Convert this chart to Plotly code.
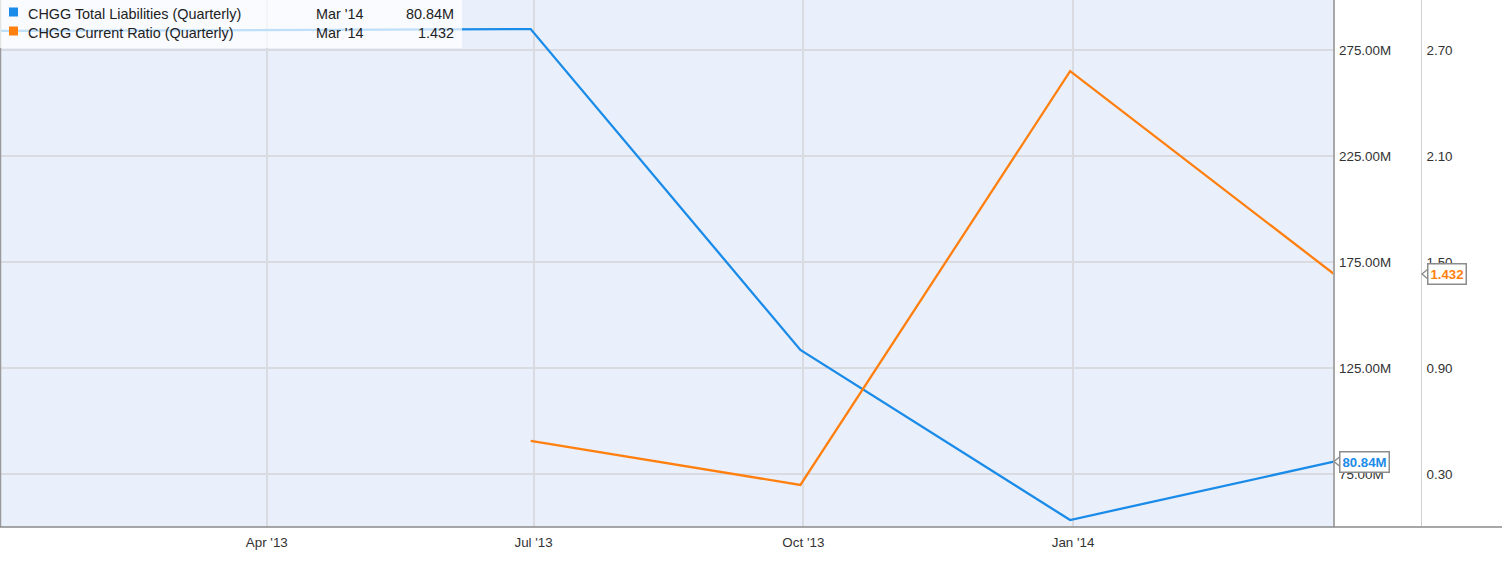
import plotly.graph_objects as go

# ---- data ----
liab_dates = ["2012-12-31", "2013-06-30", "2013-09-30", "2013-12-31", "2014-03-31"]
liab_values = [284.0, 284.9, 133.5, 53.3, 80.84]          # millions
ratio_dates = ["2013-06-30", "2013-09-30", "2013-12-31", "2014-03-31"]
ratio_values = [0.487, 0.238, 2.58, 1.432]

x_tick_vals = ["2013-04-01", "2013-07-01", "2013-10-01", "2014-01-01"]
x_tick_text = ["Apr '13", "Jul '13", "Oct '13", "Jan '14"]
liab_ticks = [75, 125, 175, 225, 275]
liab_tick_text = ["75.00M", "125.00M", "175.00M", "225.00M", "275.00M"]
ratio_ticks = [0.30, 0.90, 1.50, 2.10, 2.70]
ratio_tick_text = ["0.30", "0.90", "1.50", "2.10", "2.70"]

liab_name = "CHGG Total Liabilities (Quarterly)"
ratio_name = "CHGG Current Ratio (Quarterly)"
last_label = "Mar '14"

BLUE = "#1a8be8"
ORANGE = "#ff7f0f"
W, H = 1502, 566
PLOT_H = 527
FONT = "Liberation Sans, Arial, sans-serif"
TICK_SIZE = 13.4
LEG_SIZE = 14.4

def px(x):
    return x / W

def py(y):
    return 1 - y / PLOT_H

fig = go.Figure()
fig.add_trace(go.Scatter(x=liab_dates, y=liab_values, mode="lines",
                         line=dict(color=BLUE, width=2.3), yaxis="y",
                         hoverinfo="skip", showlegend=False))
fig.add_trace(go.Scatter(x=ratio_dates, y=ratio_values, mode="lines",
                         line=dict(color=ORANGE, width=2.3), yaxis="y2",
                         hoverinfo="skip", showlegend=False))

shapes = []
annotations = []

# borders
shapes.append(dict(type="line", xref="paper", yref="paper", x0=px(0.6), x1=px(0.6), y0=0, y1=1,
                   line=dict(color="#9a9a9a", width=1.3), layer="above"))
shapes.append(dict(type="line", xref="paper", yref="paper", x0=px(1334), x1=px(1334), y0=0, y1=1,
                   line=dict(color="#a8a8a8", width=2), layer="above"))
shapes.append(dict(type="line", xref="paper", yref="paper", x0=px(1421.5), x1=px(1421.5), y0=0, y1=1,
                   line=dict(color="#d0d0d0", width=1), layer="above"))
shapes.append(dict(type="line", xref="paper", yref="paper", x0=0, x1=1, y0=py(527), y1=py(527),
                   line=dict(color="#8a8a8a", width=1.5), layer="above"))

# legend box
shapes.append(dict(type="rect", xref="paper", yref="paper", x0=0, x1=px(462), y0=py(48), y1=1,
                   fillcolor="rgba(255,255,255,0.72)", line=dict(width=0), layer="above"))
rows = [(liab_name, BLUE, f"{liab_values[-1]:.2f}M", 13.5, 12),
        (ratio_name, ORANGE, f"{ratio_values[-1]:.3f}", 33, 31)]
for name, col, val, yc, ym in rows:
    shapes.append(dict(type="rect", xref="paper", yref="paper", x0=px(9), x1=px(18),
                       y0=py(ym + 4.5), y1=py(ym - 4.5), fillcolor=col, line=dict(width=0), layer="above"))
    annotations.append(dict(xref="paper", yref="paper", x=px(26), y=py(yc), text=name, showarrow=False,
                            xanchor="left", yanchor="middle", font=dict(family=FONT, size=LEG_SIZE, color="#222")))
    annotations.append(dict(xref="paper", yref="paper", x=px(314), y=py(yc), text=last_label, showarrow=False,
                            xanchor="left", yanchor="middle", font=dict(family=FONT, size=LEG_SIZE, color="#222")))
    annotations.append(dict(xref="paper", yref="paper", x=px(456), y=py(yc), text=val, showarrow=False,
                            xanchor="right", yanchor="middle", font=dict(family=FONT, size=LEG_SIZE, color="#222")))

liab_range = [50.0, 298.6]
ratio_range = [0.0, 2.983]

# value callouts
def callout(xpix, value, yref, text, col, per_px):
    d = 5 * per_px
    shapes.append(dict(type="path", xref="paper", yref=yref,
                       path=f"M {px(xpix + 6)},{value + d} L {px(xpix)},{value} L {px(xpix + 6)},{value - d} Z",
                       fillcolor="white", line=dict(color="#8c8c8c", width=1.3), layer="above"))
    annotations.append(dict(xref="paper", yref=yref, x=px(xpix + 5), y=value, text="<b>" + text + "</b>",
                            showarrow=False, xanchor="left", yanchor="middle",
                            bgcolor="white", bordercolor="#8c8c8c", borderwidth=1.5, borderpad=2,
                            font=dict(family=FONT, size=13.2, color=col)))

callout(1334, liab_values[-1], "y", f"{liab_values[-1]:.2f}M", BLUE,
        (liab_range[1] - liab_range[0]) / PLOT_H)
callout(1422, ratio_values[-1], "y2", f"{ratio_values[-1]:.3f}", ORANGE,
        (ratio_range[1] - ratio_range[0]) / PLOT_H)

fig.update_layout(
    width=W, height=H,
    margin=dict(l=0, r=0, t=0, b=39),
    paper_bgcolor="white",
    plot_bgcolor="#eaf0fb",
    font=dict(family=FONT, size=TICK_SIZE, color="#333"),
    showlegend=False,
    xaxis=dict(domain=[0, 1334 / W], range=["2012-12-31", "2014-03-31"], type="date",
               tickvals=x_tick_vals, ticktext=x_tick_text, showgrid=True, gridcolor="#d9dbe0",
               gridwidth=1.5, showline=False, zeroline=False, ticks="", ticklabelstandoff=6,
               tickfont=dict(family=FONT, size=TICK_SIZE, color="#333")),
    yaxis=dict(range=liab_range, side="right", anchor="free", position=1334 / W,
               tickvals=liab_ticks, ticktext=liab_tick_text, showgrid=True, gridcolor="#d9dbe0",
               gridwidth=1.5, zeroline=False, showline=False, ticks="", ticklabelstandoff=4,
               tickfont=dict(family=FONT, size=TICK_SIZE, color="#333")),
    yaxis2=dict(range=ratio_range, side="right", anchor="free", position=1421.5 / W, overlaying="y",
                tickvals=ratio_ticks, ticktext=ratio_tick_text, showgrid=False, zeroline=False,
                showline=False, ticks="", ticklabelstandoff=4,
                tickfont=dict(family=FONT, size=TICK_SIZE, color="#333")),
    shapes=shapes,
    annotations=annotations,
)

fig.write_html("out.html", config={"displayModeBar": False},
               post_script="document.body.style.margin='0px';")
